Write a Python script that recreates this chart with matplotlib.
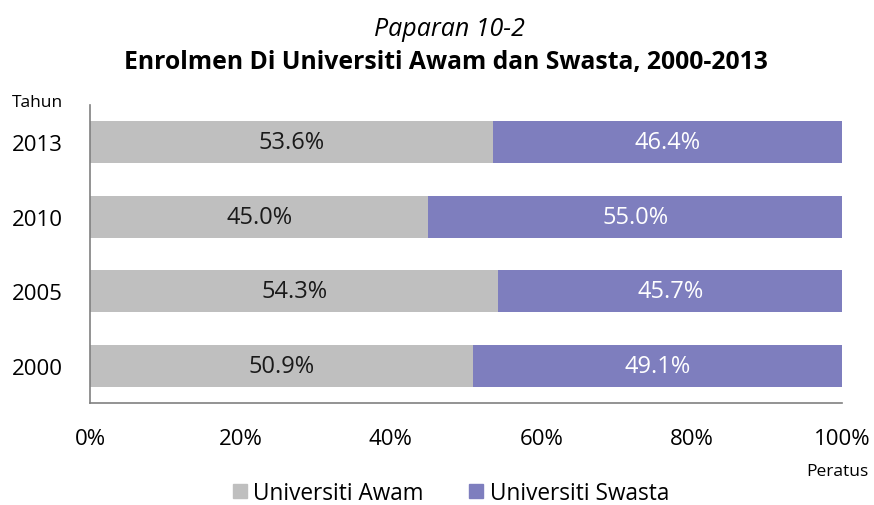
import matplotlib
matplotlib.use("Agg")
import matplotlib.pyplot as plt
from matplotlib.patches import Patch

years = ["2000", "2005", "2010", "2013"]
awam = [50.9, 54.3, 45.0, 53.6]
swasta = [49.1, 45.7, 55.0, 46.4]
xticks = [0, 20, 40, 60, 80, 100]
xtick_labels = ["0%", "20%", "40%", "60%", "80%", "100%"]

c_awam = "#BFBFBF"
c_swasta = "#7E7EBE"

plt.rcParams['font.family'] = ['Open Sans', 'DejaVu Sans']

fig = plt.figure(figsize=(8.74, 5.06), dpi=100)
ax = fig.add_axes([90/874, 1-404/506, (842-90)/874, (404-106)/506])

y = list(range(len(years)))
ax.barh(y, awam, height=0.56, color=c_awam)
ax.barh(y, swasta, left=awam, height=0.56, color=c_swasta)

FS = 16
for i in y:
    ax.text(awam[i]/2, i, f"{awam[i]:.1f}%", ha="center", va="center", fontsize=17, color="#1a1a1a")
    ax.text(awam[i] + swasta[i]/2, i, f"{swasta[i]:.1f}%", ha="center", va="center", fontsize=17, color="white")

ax.set_xlim(0, 100)
ax.set_ylim(-0.5, 3.5)
ax.set_yticks(y)
ax.set_yticklabels(years, fontsize=FS)
ax.set_xticks(xticks)
ax.set_xticklabels(xtick_labels, fontsize=FS)
ax.tick_params(axis="both", length=0)
ax.tick_params(axis="x", pad=18)
ax.tick_params(axis="y", pad=19.5)
for s in ["top", "right"]:
    ax.spines[s].set_visible(False)
ax.spines["left"].set_color("#808080")
ax.spines["bottom"].set_color("#808080")
ax.spines["left"].set_linewidth(1.2)
ax.spines["bottom"].set_linewidth(1.2)

fig.text(449/874, 1-30/506, "Paparan 10-2", ha="center", va="center", fontsize=18, style="italic")
fig.text(446/874, 1-63/506, "Enrolmen Di Universiti Awam dan Swasta, 2000-2013", ha="center", va="center", fontsize=17.8, weight="bold")
fig.text(12/874, 1-103/506, "Tahun", ha="left", va="center", fontsize=12.5)
fig.text(869/874, 1-472/506, "Peratus", ha="right", va="center", fontsize=12.5)

handles = [Patch(color=c_awam, label="Universiti Awam"), Patch(color=c_swasta, label="Universiti Swasta")]
fig.legend(handles=handles, loc="center", bbox_to_anchor=(451/874, 1-494/506), ncol=2, frameon=False,
           fontsize=16.3, handlelength=0.6, handleheight=0.6, handletextpad=0.3, columnspacing=2.0, borderpad=0)

fig.savefig("out.png", dpi=100)
